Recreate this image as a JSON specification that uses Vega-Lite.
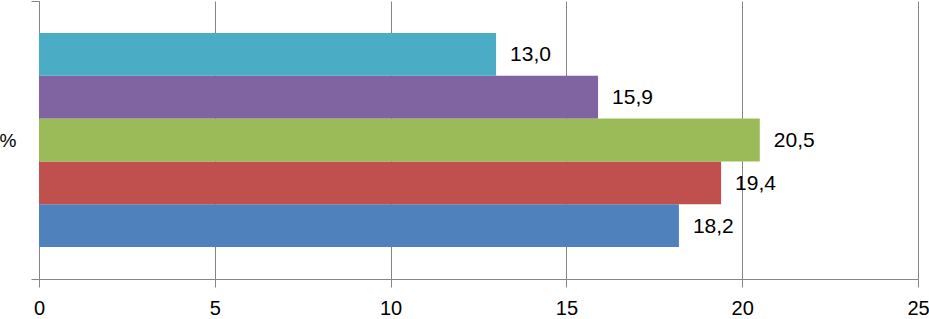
{
  "$schema": "https://vega.github.io/schema/vega-lite/v6.json",
  "width": 879,
  "height": 278,
  "autosize": "none",
  "padding": {"left": 39, "top": 1, "right": 11, "bottom": 40},
  "background": "white",
  "config": {
    "view": {"stroke": null},
    "locale": {"number": {"decimal": ",", "thousands": ".", "grouping": [3], "currency": ["", " €"]}},
    "font": "Liberation Sans"
  },
  "data": {
    "values": [
      {"cat": "%", "series": 1, "value": 18.2},
      {"cat": "%", "series": 2, "value": 19.4},
      {"cat": "%", "series": 3, "value": 20.5},
      {"cat": "%", "series": 4, "value": 15.9},
      {"cat": "%", "series": 5, "value": 13.0}
    ]
  },
  "encoding": {
    "y": {
      "field": "cat", "type": "nominal",
      "scale": {"paddingInner": 0, "paddingOuter": 0},
      "axis": {
        "title": null, "tickBand": "extent", "tickSize": 8, "tickColor": "#868686",
        "domainColor": "#868686", "labelFontSize": 19, "labelPadding": 15,
        "labelColor": "#000000", "labelFont": "Liberation Sans"
      }
    },
    "yOffset": {
      "field": "series", "type": "nominal", "sort": "descending",
      "scale": {"paddingInner": 0, "paddingOuter": 0.75}
    },
    "x": {
      "field": "value", "type": "quantitative",
      "scale": {"domain": [0, 25], "nice": false},
      "axis": {
        "title": null, "values": [0, 5, 10, 15, 20, 25], "grid": true,
        "gridColor": "#868686", "gridWidth": 1, "domainColor": "#868686",
        "tickColor": "#868686", "tickSize": 8, "labelFontSize": 20,
        "labelPadding": 11, "labelColor": "#000000", "labelFont": "Liberation Sans",
        "labelFlush": false, "labelBound": false, "format": "d"
      }
    }
  },
  "layer": [
    {
      "mark": {"type": "bar"},
      "encoding": {
        "color": {
          "field": "series", "type": "nominal", "legend": null,
          "scale": {"domain": [1, 2, 3, 4, 5], "range": ["#4F81BD", "#C0504D", "#9BBB59", "#8064A2", "#4BACC6"]}
        }
      }
    },
    {
      "mark": {"type": "text", "align": "left", "baseline": "middle", "dx": 14, "dy": 1, "fontSize": 21, "font": "Liberation Sans", "color": "#000000"},
      "encoding": {
        "text": {"field": "value", "type": "quantitative", "format": ".1f"}
      }
    }
  ]
}
